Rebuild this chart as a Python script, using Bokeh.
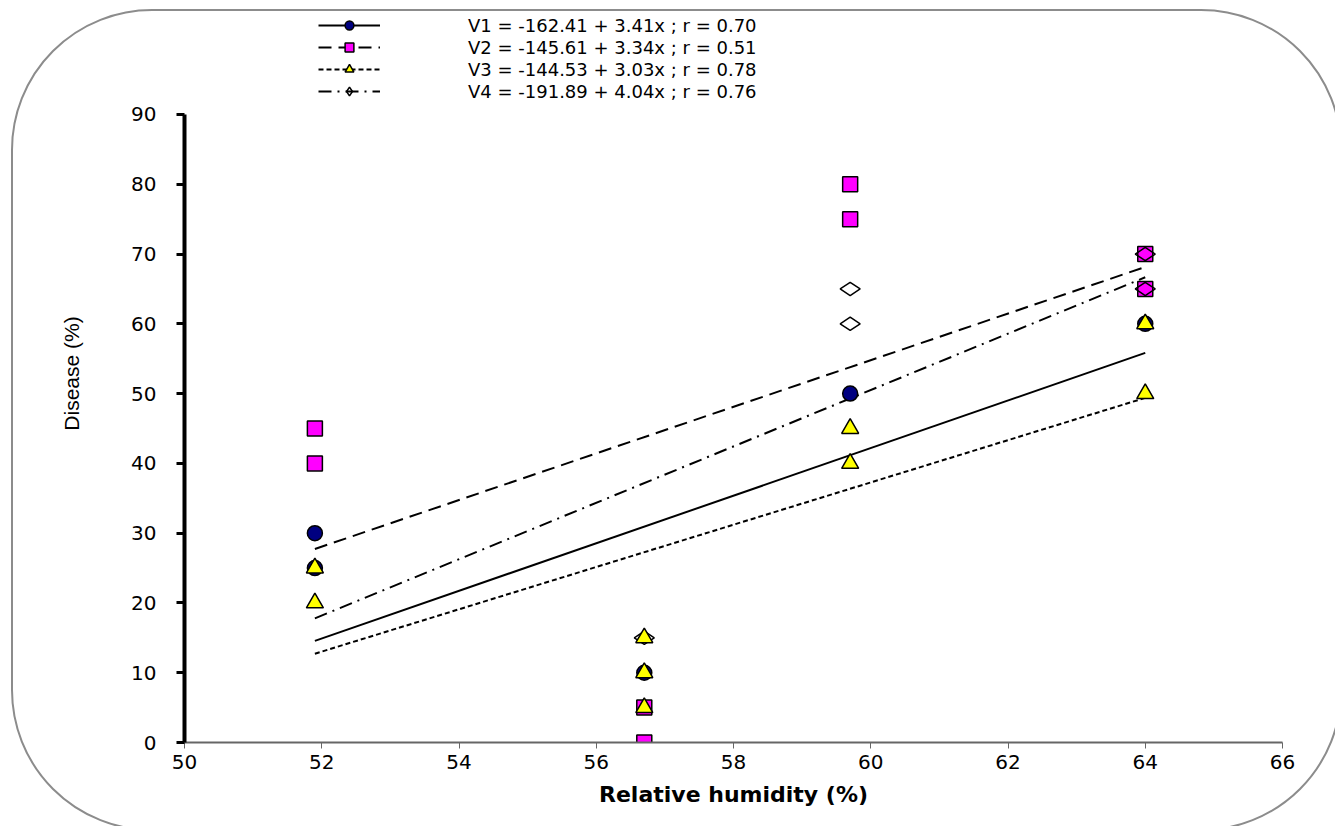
import math
from bokeh.plotting import figure
from bokeh.models import Range1d, Legend, LegendItem, FixedTicker
from bokeh.embed import file_html
from bokeh.resources import INLINE

# ---- data ----
x_ticks = [50, 52, 54, 56, 58, 60, 62, 64, 66]
y_ticks = [0, 10, 20, 30, 40, 50, 60, 70, 80, 90]

v1_x = [51.9, 51.9, 56.7, 59.7, 64.0]
v1_y = [30, 25, 10, 50, 60]
v2_x = [51.9, 51.9, 56.7, 56.7, 59.7, 59.7, 64.0, 64.0]
v2_y = [45, 40, 5, 0, 80, 75, 70, 65]
v3_x = [51.9, 51.9, 56.7, 56.7, 56.7, 59.7, 59.7, 64.0, 64.0]
v3_y = [25, 20, 15, 10, 5, 45, 40, 60, 50]
v4_x = [56.7, 59.7, 59.7, 64.0, 64.0]
v4_y = [15, 65, 60, 70, 65]

labels = [
    "V1 = -162.41 + 3.41x ; r = 0.70",
    "V2 = -145.61 + 3.34x ; r = 0.51",
    "V3 = -144.53 + 3.03x ; r = 0.78",
    "V4 = -191.89 + 4.04x ; r = 0.76",
]
intercepts = [-162.41, -145.61, -144.53, -191.89]
slopes = [3.41, 3.34, 3.03, 4.04]
fit_x = [51.9, 64.0]

W, H = 1335, 826
frame_svg = ("<svg xmlns='http://www.w3.org/2000/svg' width='1335' height='826'>"
             "<rect x='12' y='10' width='1329' height='820' rx='140' ry='140' "
             "fill='none' stroke='%238c8c8c' stroke-width='2'/></svg>")

# frame spans from the legend area down to the x axis; the y axis is bounded to 0..90
p = figure(width=W, height=H, output_backend="svg", toolbar_location=None,
           x_range=Range1d(50, 66), y_range=Range1d(0, 105.76),
           min_border_left=184, min_border_right=53, min_border_top=4, min_border_bottom=84)
p.styles = {"background-color": "white",
            "background-image": 'url("data:image/svg+xml;utf8,' + frame_svg + '")',
            "background-repeat": "no-repeat"}
p.outline_line_color = None
p.xgrid.grid_line_color = None
p.ygrid.grid_line_color = None
p.background_fill_alpha = 0
p.border_fill_alpha = 0

# axes
xa = p.xaxis[0]
xa.ticker = FixedTicker(ticks=x_ticks)
xa.axis_line_color = "#666666"
xa.axis_line_width = 2
xa.major_tick_line_color = "#666666"
xa.major_tick_line_width = 1
xa.major_tick_out = 6
xa.major_tick_in = 0
xa.minor_tick_line_color = None
xa.major_label_text_font = "DejaVu Sans"
xa.major_label_text_font_size = "20px"
xa.major_label_text_color = "black"
xa.major_label_standoff = 6
xa.axis_label = "Relative humidity (%)"
xa.axis_label_text_font = "DejaVu Sans"
xa.axis_label_text_font_style = "bold"
xa.axis_label_text_font_size = "22px"
xa.axis_label_text_color = "black"
xa.axis_label_standoff = 10

ya = p.yaxis[0]
ya.ticker = FixedTicker(ticks=y_ticks)
ya.bounds = (0, 90)
ya.axis_line_color = "black"
ya.axis_line_width = 4
ya.major_tick_line_color = "black"
ya.major_tick_line_width = 3
ya.major_tick_out = 8
ya.major_tick_in = 0
ya.minor_tick_line_color = None
ya.major_label_text_font = "DejaVu Sans"
ya.major_label_text_font_size = "20px"
ya.major_label_text_color = "black"
ya.major_label_standoff = 20
ya.axis_label = "Disease (%)"
ya.axis_label_text_font = "Liberation Sans"
ya.axis_label_text_font_style = "normal"
ya.axis_label_text_font_size = "21px"
ya.axis_label_text_color = "black"
ya.axis_label_standoff = 45

# trend lines
dashes = ["solid", "13 7", "5 3", "13 6 2 6"]
lines = []
for a, b, d in zip(intercepts, slopes, dashes):
    ys = [a + b * xv for xv in fit_x]
    lines.append(p.line(fit_x, ys, line_color="black", line_width=2, line_dash=d))

# markers (V4 drawn before V3)
r1 = p.scatter(v1_x, v1_y, marker="circle", size=15, fill_color="#000080",
               line_color="black", line_width=1.5)
r2 = p.scatter(v2_x, v2_y, marker="square", size=15, fill_color="#ff00ff",
               line_color="black", line_width=1.5)
r4 = p.scatter(v4_x, v4_y, marker="diamond", size=20, angle=math.pi / 2,
               fill_alpha=0, line_color="black", line_width=1.5)
r3 = p.scatter(v3_x, v3_y, marker="triangle", size=17, fill_color="#ffff00",
               line_color="black", line_width=1.5)

items = [
    LegendItem(label=labels[0], renderers=[lines[0], r1]),
    LegendItem(label=labels[1], renderers=[lines[1], r2]),
    LegendItem(label=labels[2], renderers=[lines[2], r3]),
    LegendItem(label=labels[3], renderers=[lines[3], r4]),
]
legend = Legend(items=items, location=(134, 640), orientation="vertical",
                glyph_width=62, glyph_height=22, label_standoff=88,
                label_text_font="DejaVu Sans", label_text_font_size="18px",
                label_text_color="black",
                label_height=22, spacing=0, padding=0, margin=0,
                border_line_color=None, background_fill_alpha=0)
p.add_layout(legend, "center")

open("out.html", "w").write(file_html(p, INLINE))
